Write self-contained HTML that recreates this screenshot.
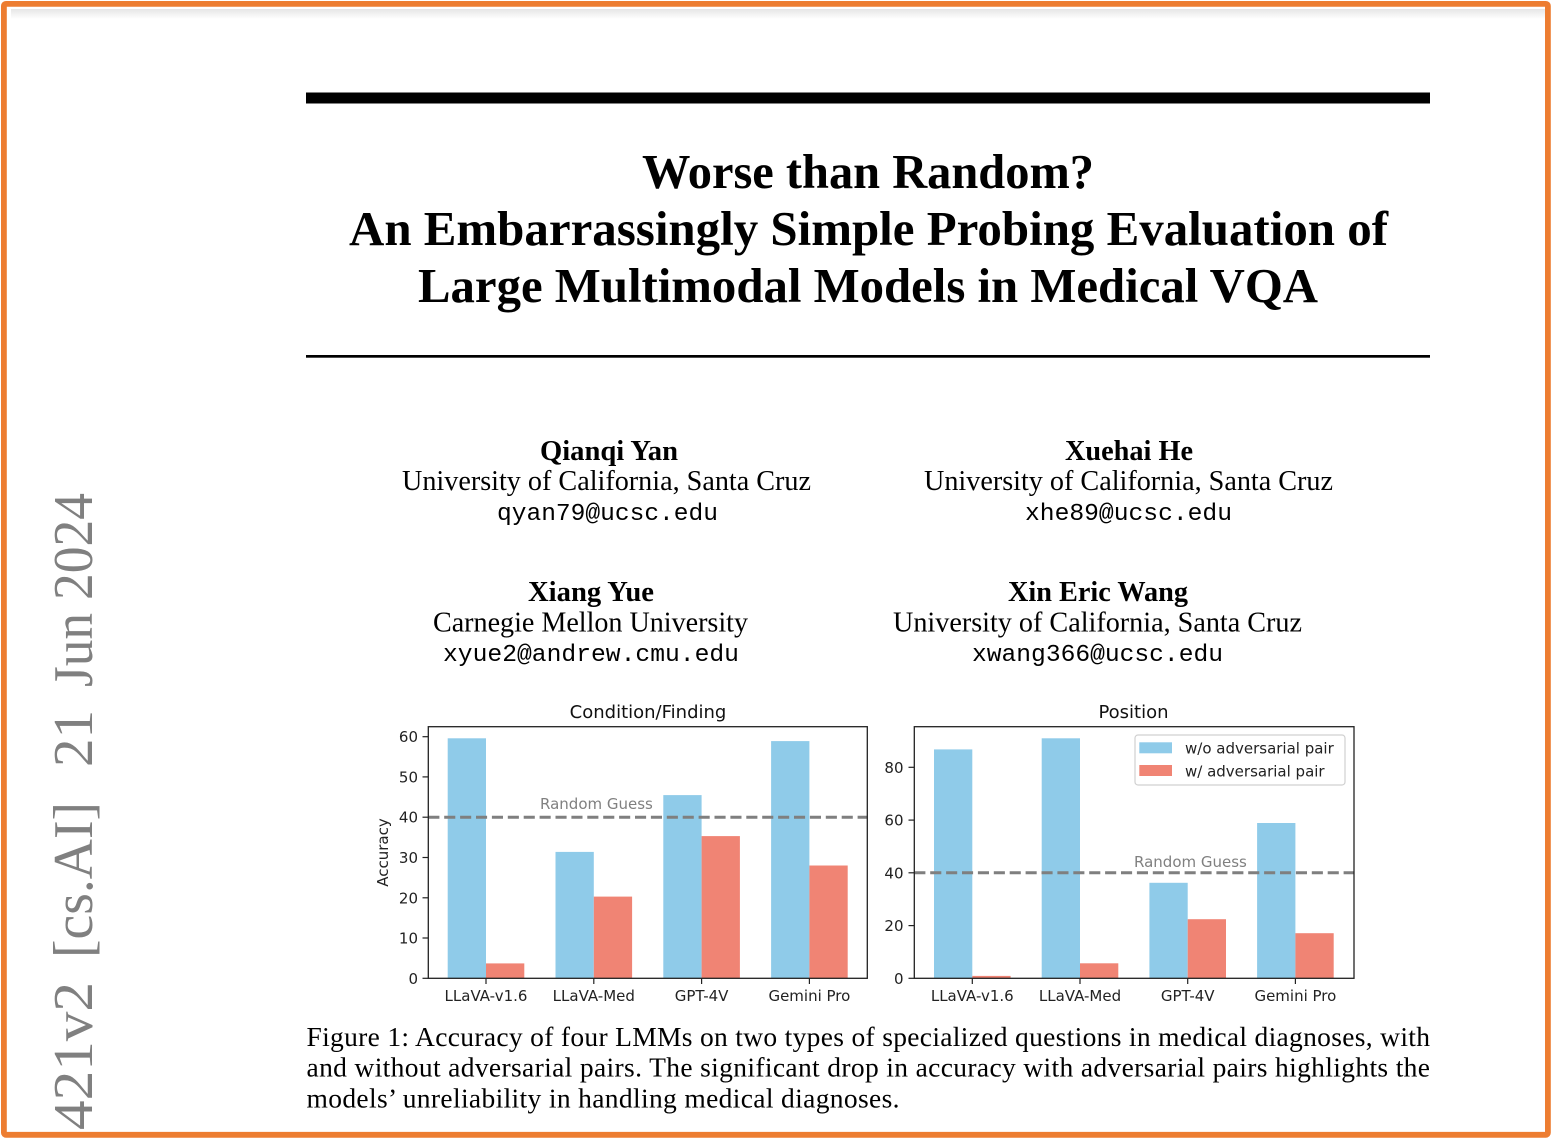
<!DOCTYPE html>
<html>
<head>
<meta charset="utf-8">
<style>
  html, body { margin:0; padding:0; background:#fff; }
  body { width:1552px; height:1139px; overflow:hidden; }
  svg { display:block; }
  .serif { font-family: "Liberation Serif", "Times New Roman", serif; }
  .mono { font-family: "Liberation Mono", "Courier New", monospace; }
  .mpl { font-family: "DejaVu Sans", "Liberation Sans", sans-serif; }
</style>
</head>
<body>
<svg width="1552" height="1139" viewBox="0 0 1552 1139" xmlns="http://www.w3.org/2000/svg">
  <defs>
    <linearGradient id="shade" x1="0" y1="0" x2="0" y2="1">
      <stop offset="0" stop-color="#e6e6e6"/>
      <stop offset="1" stop-color="#ffffff"/>
    </linearGradient>
  </defs>
  <rect x="0" y="0" width="1552" height="1139" fill="#fff"/>
  <rect x="11" y="9" width="1534" height="10" fill="url(#shade)"/>

  <!-- arXiv stamp -->
  <g class="serif" fill="#808080" font-size="56">
    <text x="92" y="600" transform="rotate(-90 92 600)" textLength="107" lengthAdjust="spacingAndGlyphs">2024</text>
    <text x="92" y="687" transform="rotate(-90 92 687)" textLength="74" lengthAdjust="spacingAndGlyphs">Jun</text>
    <text x="92" y="767" transform="rotate(-90 92 767)" textLength="57" lengthAdjust="spacingAndGlyphs">21</text>
    <text x="92" y="958" transform="rotate(-90 92 958)" textLength="156" lengthAdjust="spacingAndGlyphs">[cs.AI]</text>
    <text x="92" y="1130" transform="rotate(-90 92 1130)" textLength="148" lengthAdjust="spacingAndGlyphs">421v2</text>
  </g>

  <!-- Title rules -->
  <rect x="306" y="92.5" width="1124" height="11" fill="#000"/>
  <rect x="306" y="355" width="1124" height="2.7" fill="#000"/>

  <!-- Title -->
  <g class="serif" font-weight="bold" font-size="48.5" fill="#000" text-anchor="middle">
    <text x="868" y="188" textLength="452" lengthAdjust="spacingAndGlyphs">Worse than Random?</text>
    <text x="868.5" y="245" textLength="1039" lengthAdjust="spacingAndGlyphs">An Embarrassingly Simple Probing Evaluation of</text>
    <text x="868" y="302" textLength="900" lengthAdjust="spacingAndGlyphs">Large Multimodal Models in Medical VQA</text>
  </g>

  <!-- Authors -->
  <g fill="#000" text-anchor="middle">
    <text class="serif" font-weight="bold" font-size="28" x="609" y="460" textLength="138" lengthAdjust="spacingAndGlyphs">Qianqi Yan</text>
    <text class="serif" font-size="28" x="606.5" y="490" textLength="409" lengthAdjust="spacingAndGlyphs">University of California, Santa Cruz</text>
    <text class="mono" font-size="24.5" x="607.5" y="520" textLength="221" lengthAdjust="spacingAndGlyphs">qyan79@ucsc.edu</text>

    <text class="serif" font-weight="bold" font-size="28" x="1129" y="460" textLength="128" lengthAdjust="spacingAndGlyphs">Xuehai He</text>
    <text class="serif" font-size="28" x="1128.5" y="490" textLength="409" lengthAdjust="spacingAndGlyphs">University of California, Santa Cruz</text>
    <text class="mono" font-size="24.5" x="1128.5" y="520" textLength="207" lengthAdjust="spacingAndGlyphs">xhe89@ucsc.edu</text>

    <text class="serif" font-weight="bold" font-size="28" x="591" y="601" textLength="126" lengthAdjust="spacingAndGlyphs">Xiang Yue</text>
    <text class="serif" font-size="28" x="590.5" y="631.5" textLength="315" lengthAdjust="spacingAndGlyphs">Carnegie Mellon University</text>
    <text class="mono" font-size="24.5" x="591" y="661" textLength="296" lengthAdjust="spacingAndGlyphs">xyue2@andrew.cmu.edu</text>

    <text class="serif" font-weight="bold" font-size="28" x="1098" y="601" textLength="180" lengthAdjust="spacingAndGlyphs">Xin Eric Wang</text>
    <text class="serif" font-size="28" x="1097.5" y="631.5" textLength="409" lengthAdjust="spacingAndGlyphs">University of California, Santa Cruz</text>
    <text class="mono" font-size="24.5" x="1097.5" y="661" textLength="251" lengthAdjust="spacingAndGlyphs">xwang366@ucsc.edu</text>
  </g>

  <!-- ============ Left chart: Condition/Finding ============ -->
  <g class="mpl">
    <text x="648" y="718" font-size="18" text-anchor="middle" fill="#111">Condition/Finding</text>
    <!-- bars blue -->
    <g fill="#8FCBE9">
      <rect x="447.7" y="738.3" width="38.3" height="240.0"/>
      <rect x="555.5" y="851.9" width="38.3" height="126.4"/>
      <rect x="663.3" y="795.1" width="38.3" height="183.2"/>
      <rect x="771.1" y="741.1" width="38.3" height="237.2"/>
    </g>
    <g fill="#F08474">
      <rect x="486" y="963.4" width="38.3" height="14.9"/>
      <rect x="593.8" y="896.6" width="38.3" height="81.7"/>
      <rect x="701.6" y="836.1" width="38.3" height="142.2"/>
      <rect x="809.4" y="865.5" width="38.3" height="112.8"/>
    </g>
    <!-- random guess -->
    <line x1="428.3" y1="817.2" x2="867.3" y2="817.2" stroke="#7f7f7f" stroke-width="3" stroke-dasharray="11.1 4.8"/>
    <text x="540" y="809" font-size="15" fill="#808080">Random Guess</text>
    <!-- spines -->
    <rect x="428.3" y="726.7" width="439" height="251.6" fill="none" stroke="#222" stroke-width="1.3"/>
    <!-- y ticks -->
    <g stroke="#222" stroke-width="1.2">
      <line x1="422.5" y1="978.3" x2="428.3" y2="978.3"/>
      <line x1="422.5" y1="938.0" x2="428.3" y2="938.0"/>
      <line x1="422.5" y1="897.8" x2="428.3" y2="897.8"/>
      <line x1="422.5" y1="857.5" x2="428.3" y2="857.5"/>
      <line x1="422.5" y1="817.2" x2="428.3" y2="817.2"/>
      <line x1="422.5" y1="776.9" x2="428.3" y2="776.9"/>
      <line x1="422.5" y1="736.7" x2="428.3" y2="736.7"/>
      <line x1="486" y1="978.3" x2="486" y2="984"/>
      <line x1="593.8" y1="978.3" x2="593.8" y2="984"/>
      <line x1="701.6" y1="978.3" x2="701.6" y2="984"/>
      <line x1="809.4" y1="978.3" x2="809.4" y2="984"/>
    </g>
    <g font-size="15" fill="#222" text-anchor="end">
      <text x="418" y="983.8">0</text>
      <text x="418" y="943.5">10</text>
      <text x="418" y="903.3">20</text>
      <text x="418" y="863">30</text>
      <text x="418" y="822.7">40</text>
      <text x="418" y="782.4">50</text>
      <text x="418" y="742.2">60</text>
    </g>
    <g font-size="15" fill="#222" text-anchor="middle">
      <text x="486" y="1001">LLaVA-v1.6</text>
      <text x="593.8" y="1001">LLaVA-Med</text>
      <text x="701.6" y="1001">GPT-4V</text>
      <text x="809.4" y="1001">Gemini Pro</text>
    </g>
    <text x="388" y="852.5" font-size="15" fill="#222" text-anchor="middle" transform="rotate(-90 388 852.5)">Accuracy</text>
  </g>

  <!-- ============ Right chart: Position ============ -->
  <g class="mpl">
    <text x="1133.5" y="718" font-size="18" text-anchor="middle" fill="#111">Position</text>
    <g fill="#8FCBE9">
      <rect x="934.0" y="749.4" width="38.3" height="228.9"/>
      <rect x="1041.7" y="738.3" width="38.3" height="240.0"/>
      <rect x="1149.4" y="882.8" width="38.3" height="95.5"/>
      <rect x="1257.1" y="823.0" width="38.3" height="155.3"/>
    </g>
    <g fill="#F08474">
      <rect x="972.3" y="975.9" width="38.3" height="2.4"/>
      <rect x="1080" y="963.3" width="38.3" height="15.0"/>
      <rect x="1187.7" y="919.2" width="38.3" height="59.1"/>
      <rect x="1295.4" y="933.2" width="38.3" height="45.1"/>
    </g>
    <line x1="914.3" y1="872.8" x2="1354" y2="872.8" stroke="#7f7f7f" stroke-width="3" stroke-dasharray="11.1 4.8"/>
    <text x="1134" y="867" font-size="15" fill="#808080">Random Guess</text>
    <rect x="914.3" y="726.7" width="439.7" height="251.6" fill="none" stroke="#222" stroke-width="1.3"/>
    <g stroke="#222" stroke-width="1.2">
      <line x1="908.5" y1="978.3" x2="914.3" y2="978.3"/>
      <line x1="908.5" y1="925.6" x2="914.3" y2="925.6"/>
      <line x1="908.5" y1="872.8" x2="914.3" y2="872.8"/>
      <line x1="908.5" y1="820.1" x2="914.3" y2="820.1"/>
      <line x1="908.5" y1="767.3" x2="914.3" y2="767.3"/>
      <line x1="972.3" y1="978.3" x2="972.3" y2="984"/>
      <line x1="1080" y1="978.3" x2="1080" y2="984"/>
      <line x1="1187.7" y1="978.3" x2="1187.7" y2="984"/>
      <line x1="1295.4" y1="978.3" x2="1295.4" y2="984"/>
    </g>
    <g font-size="15" fill="#222" text-anchor="end">
      <text x="903.5" y="983.8">0</text>
      <text x="903.5" y="931.1">20</text>
      <text x="903.5" y="878.3">40</text>
      <text x="903.5" y="825.6">60</text>
      <text x="903.5" y="772.8">80</text>
    </g>
    <g font-size="15" fill="#222" text-anchor="middle">
      <text x="972.3" y="1001">LLaVA-v1.6</text>
      <text x="1080" y="1001">LLaVA-Med</text>
      <text x="1187.7" y="1001">GPT-4V</text>
      <text x="1295.4" y="1001">Gemini Pro</text>
    </g>
    <!-- legend -->
    <rect x="1135" y="735" width="210" height="50" rx="3" ry="3" fill="#fff" fill-opacity="0.85" stroke="#d0d0d0" stroke-width="1.2"/>
    <rect x="1139.3" y="742.3" width="32.7" height="11" fill="#8FCBE9"/>
    <rect x="1139.3" y="765" width="32.7" height="11" fill="#F08474"/>
    <text x="1185" y="753.5" font-size="15" fill="#222">w/o adversarial pair</text>
    <text x="1185" y="776.3" font-size="15" fill="#222">w/ adversarial pair</text>
  </g>

  <!-- Caption -->
  <g class="serif" font-size="27.5" fill="#000">
    <text x="306.5" y="1046" textLength="1123.5" lengthAdjust="spacing">Figure 1: Accuracy of four LMMs on two types of specialized questions in medical diagnoses, with</text>
    <text x="306.5" y="1076.7" textLength="1123.5" lengthAdjust="spacing">and without adversarial pairs. The significant drop in accuracy with adversarial pairs highlights the</text>
    <text x="306.5" y="1107.3" textLength="593" lengthAdjust="spacing">models’ unreliability in handling medical diagnoses.</text>
  </g>

  <!-- Orange frame -->
  <rect x="3.9" y="3.9" width="1544" height="1130.9" rx="2" ry="2" fill="none" stroke="#ED7D31" stroke-width="5.8"/>
</svg>
</body>
</html>
